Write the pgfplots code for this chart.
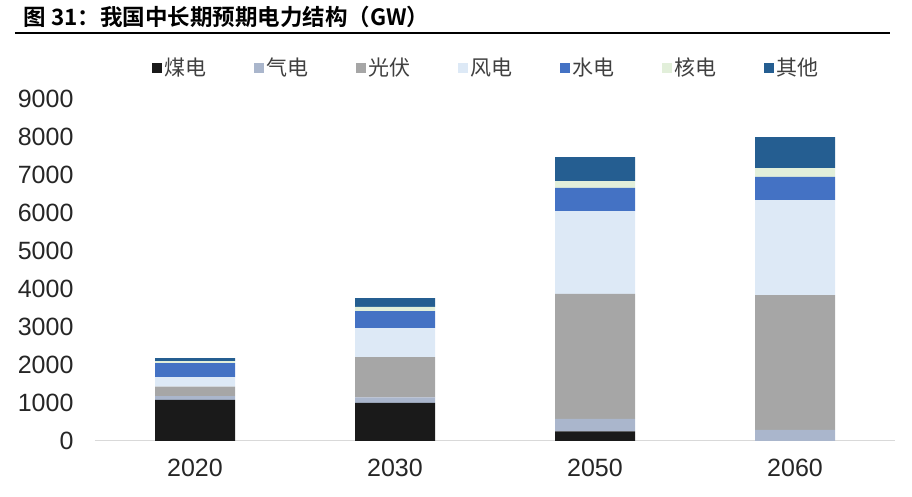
\documentclass[border=0pt]{standalone}
\usepackage{pgfplots}
\pgfplotsset{compat=1.18}
\usepackage{fontspec}
\setmainfont{Liberation Sans}
\newfontfamily\cjk{Noto Sans CJK SC}
\newfontfamily\cjkb{Noto Sans CJK SC Bold}
\definecolor{cCoal}{HTML}{1A1A1A}
\definecolor{cGas}{HTML}{AAB6CC}
\definecolor{cSolar}{HTML}{A6A6A6}
\definecolor{cWind}{HTML}{DDE9F6}
\definecolor{cHydro}{HTML}{4472C4}
\definecolor{cNuc}{HTML}{E2EFDA}
\definecolor{cOther}{HTML}{255E91}
\begin{document}
\begin{tikzpicture}
\begin{axis}[
  scale only axis, width=800pt, height=342pt,
  xmin=-0.5, xmax=3.5, ymin=0, ymax=9000,
  ybar stacked, bar width=80pt,
  xtick={0,1,2,3}, xticklabels={2020,2030,2050,2060},
  ytick={0,1000,...,9000},
  axis x line=bottom, axis y line=left,
  y axis line style={draw=none},
  x axis line style={draw=black!15, line width=1pt, -},
  major tick length=0pt,
  /pgf/number format/assume math mode=true,
  /pgf/number format/1000 sep={},
  tick label style={font=\fontsize{25}{27}\selectfont, text=black!85},
  yticklabel style={xshift=-18pt},
  xticklabel style={yshift=-15pt},
  legend columns=7,
  legend style={at={(0.489,1.091)}, anchor=center, draw=none, fill=none,
    font=\cjk\fontsize{21}{23}\selectfont, text=black!75,
    /tikz/every even column/.append style={column sep=46pt}},
  legend image code/.code={\fill[#1] (0pt,-5pt) rectangle (10pt,5pt);},
]
\addplot[fill=cCoal, draw=none] coordinates {(0,1080) (1,1000) (2,250) (3,0)};
\addplot[fill=cGas, draw=none] coordinates {(0,100) (1,150) (2,330) (3,290)};
\addplot[fill=cSolar, draw=none] coordinates {(0,250) (1,1060) (2,3290) (3,3550)};
\addplot[fill=cWind, draw=none] coordinates {(0,250) (1,760) (2,2180) (3,2500)};
\addplot[fill=cHydro, draw=none] coordinates {(0,370) (1,450) (2,610) (3,610)};
\addplot[fill=cNuc, draw=none] coordinates {(0,50) (1,110) (2,180) (3,230)};
\addplot[fill=cOther, draw=none] coordinates {(0,80) (1,230) (2,630) (3,820)};
\legend{煤电,气电,光伏,风电,水电,核电,其他}
\end{axis}
\node[anchor=west, font=\cjkb\fontsize{22.5}{24}\selectfont] at (-75pt,424pt) {图 31：我国中长期预期电力结构（GW）};
\draw[line width=2pt] (-80pt,408pt) -- (795pt,408pt);
\useasboundingbox (-95pt,-56pt) rectangle (817pt,441pt);
\end{tikzpicture}
\end{document}
